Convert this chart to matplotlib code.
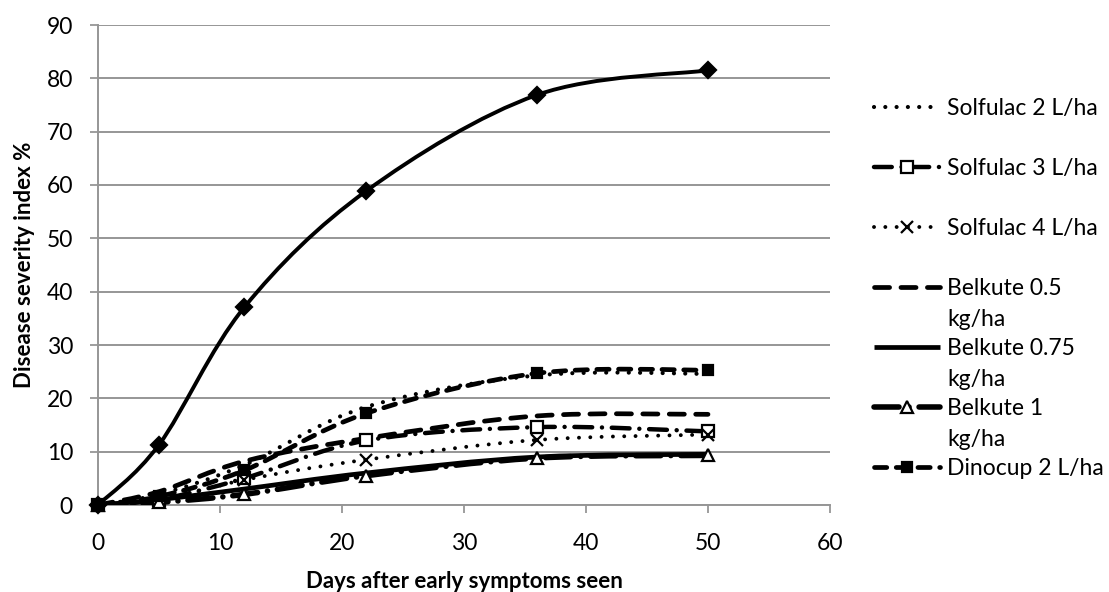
import matplotlib
matplotlib.use("Agg")
import matplotlib.pyplot as plt
from matplotlib.path import Path
from matplotlib.patches import PathPatch

plt.rcParams['font.family'] = ['Lato', 'DejaVu Sans']

# data
days = [0, 5, 12, 22, 36, 50]
control = [0, 11.3, 37.1, 58.9, 76.9, 81.5]
solfulac_2 = [0, 2.0, 7.5, 18.4, 24.3, 24.6]
solfulac_3 = [0, 1.0, 5.0, 12.1, 14.6, 13.8]
solfulac_4 = [0, 0.8, 4.7, 8.5, 12.2, 13.2]
belkute_05 = [0, 2.5, 8.2, 12.5, 16.7, 17.0]
belkute_075 = [0, 1.0, 3.0, 6.0, 9.0, 9.5]
belkute_1 = [0, 0.5, 2.0, 5.5, 8.8, 9.3]
dinocup_2 = [0, 1.6, 6.5, 17.2, 24.7, 25.3]

x_ticks = [0, 10, 20, 30, 40, 50, 60]
y_ticks = [0, 10, 20, 30, 40, 50, 60, 70, 80, 90]

grey = '#969696'
W, H = 1109, 592


def smooth_path(x, y):
    # bezier through the points, like the "smoothed line" option of a spreadsheet
    verts = [(x[0], y[0])]
    codes = [Path.MOVETO]
    n = len(x)
    for i in range(n - 1):
        x0, y0 = (x[i - 1], y[i - 1]) if i > 0 else (x[i], y[i])
        x3, y3 = (x[i + 2], y[i + 2]) if i + 2 < n else (x[i + 1], y[i + 1])
        c1 = (x[i] + (x[i + 1] - x0) / 6, y[i] + (y[i + 1] - y0) / 6)
        c2 = (x[i + 1] - (x3 - x[i]) / 6, y[i + 1] - (y3 - y[i]) / 6)
        verts += [c1, c2, (x[i + 1], y[i + 1])]
        codes += [Path.CURVE4] * 3
    return Path(verts, codes)


# label, values, linewidth, linestyle, marker, marker face, marker size, in legend
series = [
    ("Control", control, 2.8, '-', 'D', 'black', 8.5, False),
    ("Solfulac 2 L/ha", solfulac_2, 3.0, (0, (0.01, 2.7)), None, 'none', 0, True),
    ("Solfulac 3 L/ha", solfulac_3, 3.2, (0, (4.0, 2.2, 0.01, 2.2)), 's', 'white', 9, True),
    ("Solfulac 4 L/ha", solfulac_4, 2.8, (0, (0.01, 2.9)), 'x', 'none', 8, True),
    ("Belkute 0.5\nkg/ha", belkute_05, 3.4, (0, (3.2, 2.4)), None, 'none', 0, True),
    ("Belkute 0.75\nkg/ha", belkute_075, 3.4, '-', None, 'none', 0, True),
    ("Belkute 1\nkg/ha", belkute_1, 4.0, (0, (4.5, 1.8, 0.01, 1.8)), '^', 'white', 9, True),
    ("Dinocup 2 L/ha", dinocup_2, 3.4, (0, (2.6, 2.0)), 's', 'black', 7.5, True),
]

# plot area in pixels: x 0..60 -> 98..830, y 0..90 -> 505..25
fig = plt.figure(figsize=(W / 100, H / 100), dpi=100)
ax = fig.add_axes([98 / W, 1 - 505 / H, 732 / W, 480 / H])

for label, vals, lw, ls, mk, mfc, ms, _ in series:
    patch = PathPatch(smooth_path(days, vals), fill=False, edgecolor='black',
                      lw=lw, ls=ls, capstyle='round', joinstyle='round', zorder=3)
    ax.add_patch(patch)
    if mk:
        ax.plot(days, vals, linestyle='none', marker=mk, markersize=ms,
                markerfacecolor=mfc, markeredgecolor='black', markeredgewidth=1.6,
                zorder=4, clip_on=False)

ax.set_xlim(0, 60)
ax.set_ylim(0, 90)
ax.set_xticks(x_ticks)
ax.set_yticks(y_ticks)
ax.tick_params(axis='both', labelsize=16.5, color=grey, length=6, width=1.3)
ax.tick_params(axis='x', pad=14)
ax.tick_params(axis='y', pad=12)
ax.yaxis.grid(True, color=grey, lw=1.4)
ax.set_axisbelow(True)
for s in ['top', 'right']:
    ax.spines[s].set_visible(False)
for s in ['left', 'bottom']:
    ax.spines[s].set_color(grey)
    ax.spines[s].set_linewidth(1.4)

ax.set_xlabel("Days after early symptoms seen", fontsize=16, fontweight='bold', va='center')
ax.xaxis.set_label_coords(0.5, -(581 - 505) / 480)
ax.set_ylabel("Disease severity index %", fontsize=16, fontweight='bold', va='center')
ax.yaxis.set_label_coords(-(98 - 24) / 732, 0.5)

# legend drawn by hand on a pixel overlay so the key sits by the first line
lax = fig.add_axes([0, 0, 1, 1])
lax.set_xlim(0, W)
lax.set_ylim(H, 0)
lax.axis('off')

baselines = [115, 175, 235, 295, 355, 415, 475]
k = 0
for label, vals, lw, ls, mk, mfc, ms, show in series:
    if not show:
        continue
    base = baselines[k]
    yk = base - 8
    lax.plot([874, 940], [yk, yk], color='black', lw=lw, ls=ls,
             dash_capstyle='round', solid_capstyle='butt')
    if mk:
        lax.plot([907], [yk], linestyle='none', marker=mk, markersize=ms,
                 markerfacecolor=mfc, markeredgecolor='black', markeredgewidth=1.6)
    for j, part in enumerate(label.split('\n')):
        lax.text(947, base + 31 * j, part, fontsize=16.5, va='baseline', ha='left')
    k += 1

fig.savefig("out.png", dpi=100)
